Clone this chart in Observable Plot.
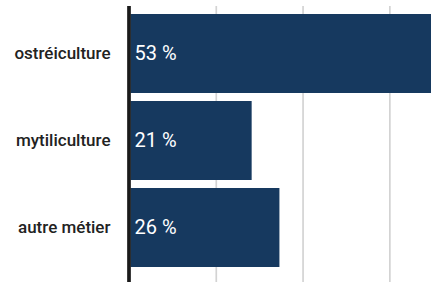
<!DOCTYPE html>
<html>
<head>
<meta charset="utf-8">
<script src="https://cdn.jsdelivr.net/npm/d3@7"></script>
<script src="https://cdn.jsdelivr.net/npm/@observablehq/plot@0.6"></script>
<style>
  html, body { margin: 0; padding: 0; background: white; overflow: hidden; }
</style>
</head>
<body>
<div id="chart"></div>
<script>
const categories = ["ostréiculture", "mytiliculture", "autre métier"];
const values = [53, 21.2, 26];
const labels = ["53 %", "21 %", "26 %"];
const gridTicks = [15, 30, 45];

const data = categories.map((c, i) => ({cat: c, value: values[i], label: labels[i]}));

const chart = Plot.plot({
  width: 431,
  height: 282,
  marginLeft: 129,
  marginRight: 0,
  marginTop: 6,
  marginBottom: 0,
  x: {domain: [0, 52.2], axis: null},
  y: {domain: categories, padding: 0.09, insetBottom: 7, label: null, axis: null},
  style: {fontFamily: "Roboto, sans-serif", background: "white"},
  marks: [
    Plot.ruleX(gridTicks, {stroke: "#d3d3d3", strokeWidth: 1.7}),
    Plot.barX(data, {x: "value", y: "cat", fill: "#16395f", insetLeft: 1.5, clip: true}),
    Plot.text(data, {x: 0, y: "cat", text: "label", textAnchor: "start", dx: 5, fill: "white", fontSize: 20}),
    Plot.ruleX([0], {stroke: "#1a1a1a", strokeWidth: 3.7, dx: -0.5}),
    Plot.axisY({tickSize: 0, tickPadding: 19, fontSize: 17, fontWeight: 500, fill: "#222", label: null})
  ]
});
document.getElementById("chart").appendChild(chart);
</script>
</body>
</html>
